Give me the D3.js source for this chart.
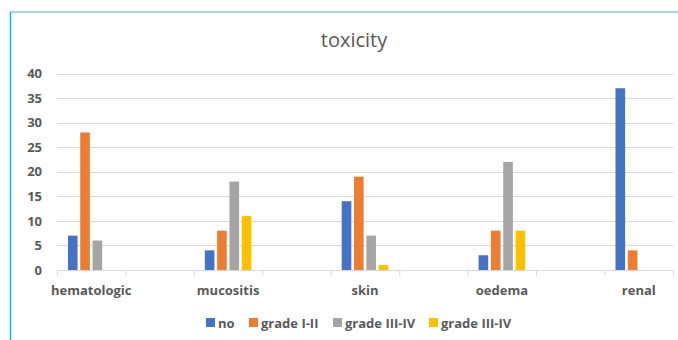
<!DOCTYPE html>
<html>
<head>
<meta charset="utf-8">
<script src="https://cdn.jsdelivr.net/npm/d3@7"></script>
<style>
  html, body { margin: 0; padding: 0; background: #fff; }
  svg { display: block; }
  text { font-family: "Open Sans", "Noto Sans", sans-serif; }
</style>
</head>
<body>
<svg id="chart" width="678" height="340"></svg>
<script>
// Categories (blank slots sit between the labelled groups)
const categories = ["hematologic", "", "mucositis", "", "skin", "", "oedema", "", "renal"];
const seriesNames = ["no", "grade I-II", "grade III-IV", "grade III-IV "];
const seriesColors = ["#4472C4", "#ED7D31", "#A5A5A5", "#FFC000"];
// values per category, one array per series
const noValues      = [7, 0, 4, 0, 14, 0, 3, 0, 37];
const gradeI_II     = [28, 0, 8, 0, 19, 0, 8, 0, 4];
const gradeIII_IV_a = [6, 0, 18, 0, 7, 0, 22, 0, 0];
const gradeIII_IV_b = [0, 0, 11, 0, 1, 0, 8, 0, 0];
const yTicks = [0, 5, 10, 15, 20, 25, 30, 35, 40];
const title = "toxicity";

const seriesValues = [noValues, gradeI_II, gradeIII_IV_a, gradeIII_IV_b];
const rows = categories.map((c, i) => ({
  category: i,
  label: c,
  values: seriesValues.map((s, k) => ({ key: k, value: s[i] }))
}));

const svg = d3.select("#chart");

// frame lines along the top and left
svg.append("line").attr("x1", 11).attr("x2", 678).attr("y1", 12).attr("y2", 12)
  .attr("stroke", "#7ECFEA").attr("stroke-width", 1.5);
svg.append("line").attr("x1", 10.5).attr("x2", 10.5).attr("y1", 11.5).attr("y2", 340)
  .attr("stroke", "#1FB3E5").attr("stroke-width", 1.5);

const plotLeft = 57, plotRight = 673, plotTop = 73.5, plotBottom = 270;

const x0 = d3.scaleBand().domain(d3.range(categories.length)).range([plotLeft, plotRight])
  .paddingInner(0).paddingOuter(0);
const bw = x0.bandwidth();
const x1 = d3.scaleBand().domain(d3.range(seriesNames.length))
  .range([bw * 0.14, bw * 0.86]).paddingInner(0.22).paddingOuter(0.11);
const y = d3.scaleLinear().domain([0, 40]).range([plotBottom, plotTop]);

// title
svg.append("text").attr("x", 354).attr("y", 47).attr("text-anchor", "middle")
  .attr("font-size", 20).attr("fill", "#595959").text(title);

// horizontal gridlines
svg.append("g").selectAll("line").data(yTicks.filter(t => t > 0)).join("line")
  .attr("x1", plotLeft).attr("x2", plotRight)
  .attr("y1", d => Math.round(y(d)) + 0.5).attr("y2", d => Math.round(y(d)) + 0.5)
  .attr("stroke", "#D9D9D9").attr("stroke-width", 1);

// y axis labels
const yAxis = d3.axisLeft(y).tickValues(yTicks).tickSize(0).tickPadding(15);
const gy = svg.append("g").attr("transform", `translate(${plotLeft},0)`).call(yAxis);
gy.select(".domain").remove();
gy.selectAll("text").attr("font-size", 13).attr("font-weight", "bold")
  .attr("fill", "#595959").attr("font-family", "\"Open Sans\", sans-serif");

// bars
svg.append("g").selectAll("g").data(rows).join("g")
  .attr("transform", d => `translate(${x0(d.category)},0)`)
  .selectAll("rect").data(d => d.values.filter(v => v.value > 0)).join("rect")
  .attr("x", d => x1(d.key)).attr("width", x1.bandwidth())
  .attr("y", d => y(d.value)).attr("height", d => y(0) - y(d.value))
  .attr("fill", d => seriesColors[d.key]);

// category axis with tick marks between groups
const xAxisScale = d3.scaleLinear().domain([0, categories.length]).range([plotLeft, plotRight]);
const gx = svg.append("g").attr("transform", `translate(0,${Math.round(plotBottom) + 0.5})`)
  .call(d3.axisBottom(xAxisScale).tickValues(d3.range(categories.length + 1))
    .tickSize(5).tickFormat(""));
gx.selectAll("line").attr("stroke", "#D9D9D9");
gx.select(".domain").attr("stroke", "#D9D9D9").attr("d", `M${plotLeft},0H${plotRight}`);

svg.append("g").selectAll("text").data(rows.filter(r => r.label)).join("text")
  .attr("x", d => x0(d.category) + bw / 2).attr("y", 295)
  .attr("text-anchor", "middle").attr("font-size", 13).attr("font-weight", "bold")
  .attr("fill", "#595959").text(d => d.label);

// legend
const legendX = [206, 249, 333, 429];
const lg = svg.append("g").selectAll("g").data(seriesNames).join("g")
  .attr("transform", (d, i) => `translate(${legendX[i]},318)`);
lg.append("rect").attr("width", 9).attr("height", 9).attr("fill", (d, i) => seriesColors[i]);
lg.append("text").attr("x", 12).attr("y", 9.5).attr("font-size", 13).attr("font-weight", "bold")
  .attr("fill", "#595959").text(d => d.trim());
</script>
</body>
</html>
